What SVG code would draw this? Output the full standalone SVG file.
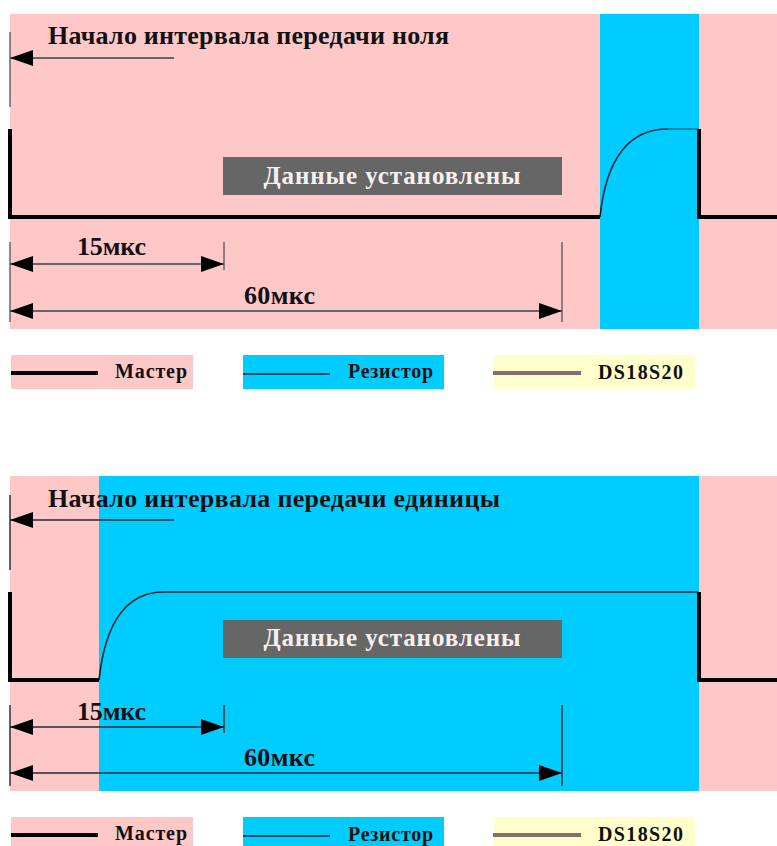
<svg xmlns="http://www.w3.org/2000/svg" width="777" height="846" viewBox="0 0 777 846">
<style>
text{font-family:"Liberation Serif","Times New Roman",serif;fill:#111}
.title{font-size:26px;font-weight:bold}
.dim{font-size:26px;font-weight:bold}
.data{font-size:25px;font-weight:bold;fill:#f4f0f0;text-anchor:middle}
.leg{font-size:20px;font-weight:bold}
.thin{stroke:#666;stroke-width:2;fill:none}
.thin2{stroke:#1c2c33;stroke-width:1.5;fill:none}
.tick{stroke:#666;stroke-width:1.5;fill:none}
.tick2{stroke:#333;stroke-width:1.5;fill:none}
.master{stroke:#000;stroke-width:4;fill:none}
.res{stroke:#0b2530;stroke-width:1.6;fill:none}
.pink{fill:#ffc8c8}.blue{fill:#00ccff}.yellow{fill:#ffffcc}.gray{fill:#666}
</style>
<defs>
<marker id="ah" markerUnits="userSpaceOnUse" markerWidth="24" markerHeight="18" refX="23" refY="8" orient="auto-start-reverse"><path d="M0,0L23,8L0,16Z" fill="#000"/></marker>
</defs>
<g id="panel-zero">
<rect class="pink" x="10" y="14" width="767" height="315"/>
<rect class="blue" x="600" y="14" width="99" height="315"/>
</g>
<g id="panel-one">
<rect class="pink" x="10" y="476" width="767" height="315"/>
<rect class="blue" x="99" y="476" width="600" height="315"/>
</g>
<g id="connectors">
<path class="tick" d="M10,32V107M10,242V322M224,242V270M562,242V322"/>
<path class="thin" d="M174,58H10" marker-end="url(#ah)"/>
<path class="thin" d="M10,264H224" marker-start="url(#ah)" marker-end="url(#ah)"/>
<path class="thin" d="M10,311H562" marker-start="url(#ah)" marker-end="url(#ah)"/>
<path class="master" d="M10,129V217H600"/>
<path class="res" d="M600,217C606,160 628,129 668,129"/>
<path class="res" stroke-opacity=".5" d="M668,129H698"/>
<path class="master" d="M699,129V217H777"/>
<path class="tick2" d="M10,495V570M10,705V786M224,705V733M562,705V786"/>
<path class="thin2" d="M174,520H10" marker-end="url(#ah)"/>
<path class="thin2" d="M10,727H224" marker-start="url(#ah)" marker-end="url(#ah)"/>
<path class="thin2" d="M10,773H562" marker-start="url(#ah)" marker-end="url(#ah)"/>
<path class="master" d="M10,592V680H99"/>
<path class="res" d="M99,680C105,624 125,592 164,592H698"/>
<path class="master" d="M699,592V680H777"/>
</g>
<g id="label-zero">
<text class="title" x="48" y="44" textLength="401" lengthAdjust="spacing">Начало интервала передачи ноля</text>
<text class="dim" x="77" y="255" textLength="69" lengthAdjust="spacing">15мкс</text>
<text class="dim" x="244" y="304" textLength="71" lengthAdjust="spacing">60мкс</text>
</g>
<g id="data-zero">
<rect class="gray" x="223" y="157" width="339" height="38"/>
<text class="data" x="392" y="184" textLength="257" lengthAdjust="spacing">Данные установлены</text>
</g>
<g id="legend-zero">
<rect class="pink" x="11" y="355" width="182" height="34"/>
<path class="master" d="M11,373H98"/>
<text class="leg" x="115" y="378" textLength="72" lengthAdjust="spacing">Мастер</text>
<rect class="blue" x="243" y="355" width="201" height="34"/>
<path class="res" d="M243,374H330"/>
<text class="leg" x="348" y="378" textLength="85" lengthAdjust="spacing">Резистор</text>
<rect class="yellow" x="494" y="355" width="201" height="34"/>
<path stroke="#8a6a72" stroke-width="4" fill="none" d="M493,373H581"/>
<text class="leg" x="598" y="379" textLength="85" lengthAdjust="spacing">DS18S20</text>
</g>
<g id="label-one">
<text class="title" x="48" y="507" textLength="452" lengthAdjust="spacing">Начало интервала передачи единицы</text>
<text class="dim" x="77" y="720" textLength="69" lengthAdjust="spacing">15мкс</text>
<text class="dim" x="244" y="766" textLength="71" lengthAdjust="spacing">60мкс</text>
</g>
<g id="data-one">
<rect class="gray" x="223" y="620" width="339" height="38"/>
<text class="data" x="392" y="646" textLength="257" lengthAdjust="spacing">Данные установлены</text>
</g>
<g id="legend-one">
<rect class="pink" x="11" y="817" width="182" height="29"/>
<path class="master" d="M11,835H98"/>
<text class="leg" x="115" y="840" textLength="72" lengthAdjust="spacing">Мастер</text>
<rect class="blue" x="243" y="817" width="201" height="29"/>
<path class="res" d="M243,836H330"/>
<text class="leg" x="348" y="841" textLength="85" lengthAdjust="spacing">Резистор</text>
<rect class="yellow" x="494" y="817" width="201" height="29"/>
<path stroke="#8a6a72" stroke-width="4" fill="none" d="M493,835H581"/>
<text class="leg" x="598" y="841" textLength="85" lengthAdjust="spacing">DS18S20</text>
</g>
</svg>
